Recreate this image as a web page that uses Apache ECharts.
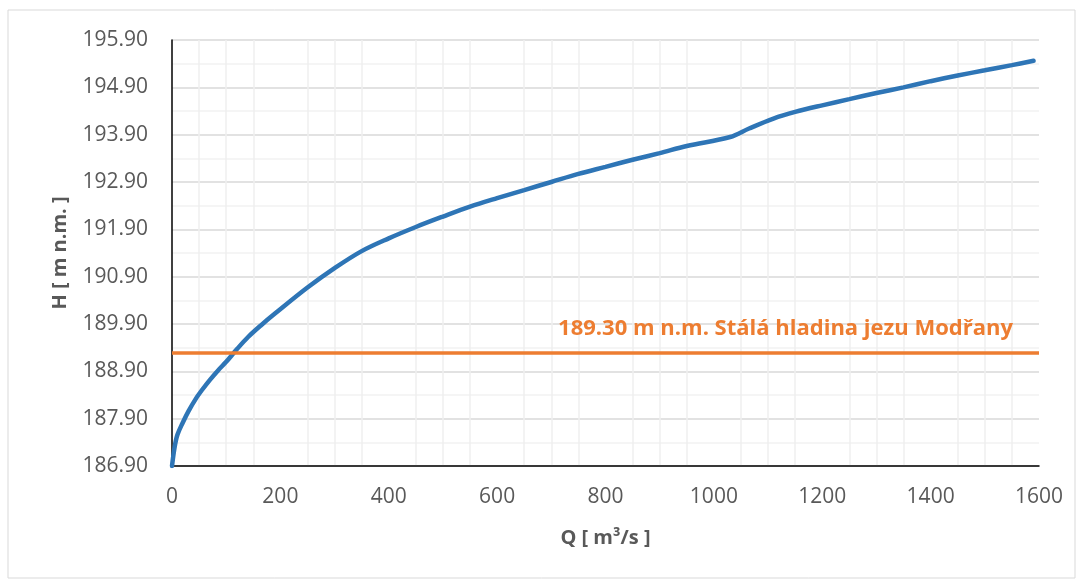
<!DOCTYPE html>
<html>
<head>
<meta charset="utf-8">
<script src="https://cdn.jsdelivr.net/npm/echarts@6/dist/echarts.min.js"></script>
<style>
  html, body { margin: 0; padding: 0; background: #fff; }
  #chart { width: 1083px; height: 580px; }
</style>
</head>
<body>
<div id="chart"></div>
<script>
// Q [m3/s] and H [m n.m.]
var flowQ = [0, 5, 10, 20, 30, 45, 55, 70, 85, 100, 120, 140, 165, 190, 250, 300, 350, 400, 450, 500, 550, 600,
  650, 700, 750, 800, 850, 900, 950, 1030, 1065, 1110, 1150, 1200, 1250, 1300, 1350, 1400, 1450, 1500, 1550, 1590];
var levelH = [186.90, 187.31, 187.56, 187.82, 188.05, 188.34, 188.50, 188.72, 188.92, 189.10, 189.37, 189.62,
  189.88, 190.12, 190.67, 191.08, 191.44, 191.71, 191.95, 192.17, 192.38, 192.56, 192.73, 192.90, 193.07,
  193.22, 193.37, 193.51, 193.66, 193.85, 194.03, 194.24, 194.38, 194.52, 194.65, 194.78, 194.90, 195.03,
  195.15, 195.26, 195.37, 195.46];

var weirLevel = 189.30;
var weirText = '189.30 m n.m. Stálá hladina jezu Modřany';

// axis runs 186.90 .. 195.90 by 1; shift so ticks land on whole numbers
var H_OFFSET = 0.1;

function drawChart () {

  var chartDom = document.getElementById('chart');
  var myChart = echarts.init(chartDom);
  var option;

  var curve = flowQ.map(function (q, i) { return [q, levelH[i] + H_OFFSET]; });

  option = {
    animation: false,
    textStyle: { fontFamily: 'Open Sans' },
    graphic: [{
      type: 'rect',
      shape: { x: 8, y: 10, width: 1067, height: 568 },
      style: { fill: 'none', stroke: '#d9d9d9', lineWidth: 1 }
    }],
    grid: { left: 172, right: 44, top: 40, bottom: 114 },
    xAxis: {
      type: 'value',
      min: 0,
      max: 1600,
      interval: 200,
      name: 'Q [ m³/s ]',
      nameLocation: 'middle',
      nameGap: 62,
      nameTextStyle: { fontSize: 20, fontWeight: 'bold', color: '#595959' },
      axisLine: { show: true, onZero: false, lineStyle: { color: '#000', width: 1.5 } },
      axisTick: { show: false },
      axisLabel: {
        fontSize: 21,
        color: '#595959',
        margin: 21,
        formatter: function (v) { return String(v); }
      },
      splitLine: { show: false },
      minorTick: { show: false, splitNumber: 4 },
      minorSplitLine: { show: true, lineStyle: { color: '#efefef', width: 1.5 } }
    },
    yAxis: {
      type: 'value',
      min: 187,
      max: 196,
      interval: 1,
      name: 'H [ m n.m. ]',
      nameLocation: 'middle',
      nameGap: 102,
      nameTextStyle: { fontSize: 20, fontWeight: 'bold', color: '#595959' },
      axisLine: { show: true, lineStyle: { color: '#000', width: 1.5 } },
      axisTick: { show: false },
      axisLabel: {
        fontSize: 21,
        color: '#595959',
        margin: 24,
        formatter: function (v) { return (v - H_OFFSET).toFixed(2); }
      },
      splitLine: { lineStyle: { color: '#d9d9d9', width: 1.5 } },
      minorTick: { show: false, splitNumber: 2 },
      minorSplitLine: { show: true, lineStyle: { color: '#f2f2f2', width: 1.5 } }
    },
    series: [
      {
        name: 'H',
        type: 'line',
        data: curve,
        showSymbol: false,
        smooth: 0.35,
        lineStyle: { color: '#2E75B6', width: 4.5, cap: 'round' },
        itemStyle: { color: '#2E75B6' },
        z: 3,
        markLine: {
          silent: true,
          symbol: 'none',
          lineStyle: { color: '#ED7D31', width: 3.5, type: 'solid' },
          label: {
            position: 'insideEndTop',
            distance: [26, 13],
            formatter: weirText,
            fontSize: 22,
            fontWeight: 'bold',
            color: '#ED7D31'
          },
          data: [{ yAxis: weirLevel + H_OFFSET }]
        }
      }
    ]
  };

  option && myChart.setOption(option);

}

drawChart()
</script>
</body>
</html>
